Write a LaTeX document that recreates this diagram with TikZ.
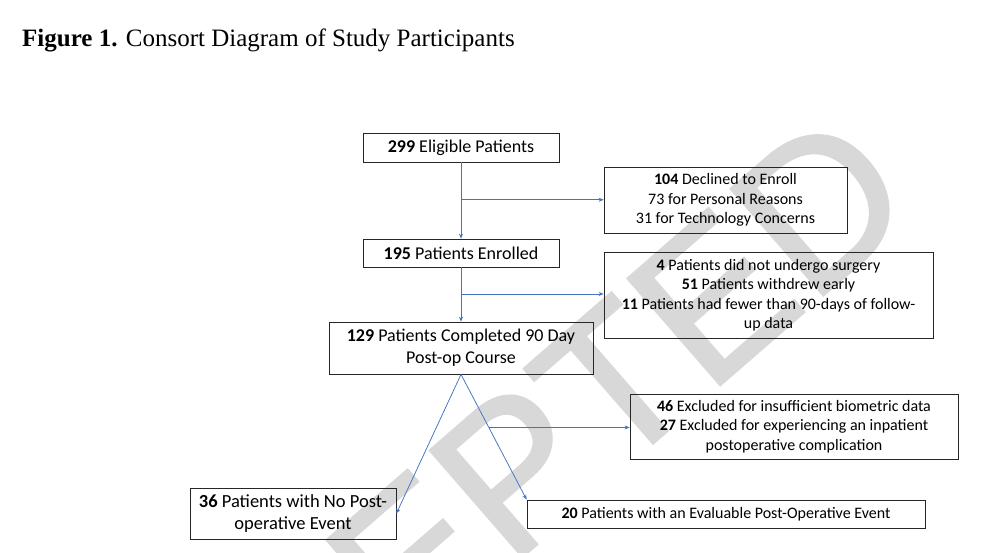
\documentclass[tikz,border=0pt]{standalone}
\usepackage{fontspec}
\setmainfont{Carlito}
\newfontfamily\timesf{Liberation Serif}
\newfontfamily\arialf[FakeBold=1.2]{Liberation Sans}
\usetikzlibrary{arrows.meta,calc}
\definecolor{arrblue}{HTML}{4472C4}
\definecolor{wmgray}{HTML}{D8D8D8}
\begin{document}
\begin{tikzpicture}[x=1pt,y=-1pt,
  box/.style={draw=black!85, line width=0.75pt, inner sep=0pt, align=center, text=black},
  big/.style={font=\fontsize{18}{22}\selectfont},
  small/.style={font=\fontsize{16}{19.5}\selectfont},
  arr/.style={draw=arrblue, line width=0.75pt, -{Stealth[length=5pt,width=4pt]}}]
\useasboundingbox[fill=white] (0,0) rectangle (990,552);
\begin{scope}
\clip (0,0) rectangle (990,552);
\node[rotate=41, text=wmgray, font=\arialf\fontsize{205}{205}\selectfont, inner sep=0pt] (wm) at (455,522) {ACCEPTED};
\end{scope}
\node[anchor=base west, font=\timesf\fontsize{25}{29}\selectfont, inner sep=0pt] (title) at (22,46) {\textbf{Figure 1.} Consort Diagram of Study Participants};
\node[box,big,minimum width=196pt,minimum height=29pt] (b1) at (461,147.5) {\textbf{299} Eligible Patients};
\node[box,big,minimum width=196pt,minimum height=28pt] (b2) at (461,253) {\textbf{195} Patients Enrolled};
\node[box,big,minimum width=264pt,minimum height=52pt] (b3) at (461,348) {\textbf{129} Patients Completed 90 Day\\Post-op Course};
\node[box,small,minimum width=243pt,minimum height=66pt] (dec) at (725.5,200) {\textbf{104} Declined to Enroll\\73 for Personal Reasons\\31 for Technology Concerns};
\node[box,small,minimum width=329pt,minimum height=86pt] (exc1) at (768.5,295) {\textbf{4} Patients did not undergo surgery\\\textbf{51} Patients withdrew early\\\textbf{11} Patients had fewer than 90-days of follow-\\up data};
\node[box,small,minimum width=328pt,minimum height=65pt] (exc2) at (794,426.5) {\textbf{46} Excluded for insufficient biometric data\\\textbf{27} Excluded for experiencing an inpatient\\postoperative complication};
\node[box,font=\fontsize{18.5}{22}\selectfont,minimum width=206pt,minimum height=51pt] (b36) at (293,513.5) {\textbf{36} Patients with No Post-\\operative Event};
\node[box,small,minimum width=398pt,minimum height=28pt] (b20) at (726,514) {\textbf{20} Patients with an Evaluable Post-Operative Event};
\draw[arr] (b1.south) -- (b2.north);
\coordinate (j1) at ($(b1.south)!0.49!(b2.north)$);
\draw[arr] (j1) -- (j1 -| dec.west);
\draw[arr] (b2.south) -- (b3.north);
\coordinate (j2) at ($(b2.south)!0.49!(b3.north)$);
\draw[arr] (j2) -- (j2 -| exc1.west);
\draw[arr] (b3.south) -- (b36.east);
\draw[arr] (b3.south) -- (b20.north west);
\coordinate (j3) at ($(b3.south)!0.424!(b20.north west)$);
\draw[arr] (j3) -- (j3 -| exc2.west);
\end{tikzpicture}
\end{document}
